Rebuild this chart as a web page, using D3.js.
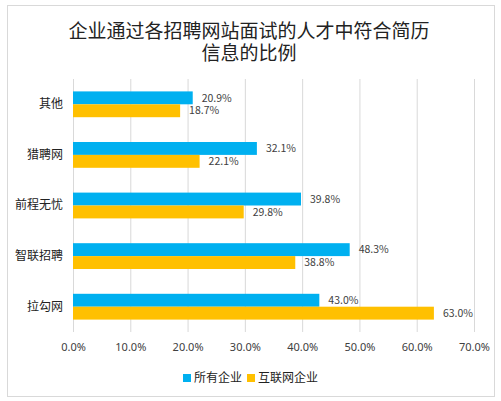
<!DOCTYPE html>
<html>
<head>
<meta charset="utf-8">
<script src="https://cdn.jsdelivr.net/npm/d3@7"></script>
<style>
  body { margin: 0; background: #fff; }
  svg { font-family: "Noto Sans CJK SC", "Noto Sans", sans-serif; }
</style>
</head>
<body>
<script>
// chart data
var categories = ["其他", "猎聘网", "前程无忧", "智联招聘", "拉勾网"];
var seriesNames = ["所有企业", "互联网企业"];
var allCompanies = [20.9, 32.1, 39.8, 48.3, 43.0];
var internetCompanies = [18.7, 22.1, 29.8, 38.8, 63.0];
var tickValues = [0, 10, 20, 30, 40, 50, 60, 70];
var titleLines = ["企业通过各招聘网站面试的人才中符合简历", "信息的比例"];
var colors = ["#00b0f0", "#ffc000"];

var width = 501, height = 401;
var margin = {top: 79, right: 27, bottom: 69, left: 73};

var rows = categories.map((c, i) => ({
  cat: c,
  vals: [allCompanies[i], internetCompanies[i]]
}));

var svg = d3.select("body").append("svg")
    .attr("width", width)
    .attr("height", height);

// outer frame
svg.append("rect")
    .attr("x", 7.5).attr("y", 5.5)
    .attr("width", 487).attr("height", 391)
    .attr("fill", "#fff")
    .attr("stroke", "#d9d9d9");

var x = d3.scaleLinear()
    .domain([0, 70])
    .range([margin.left, width - margin.right]);

var y = d3.scaleBand()
    .domain(categories)
    .range([margin.top, height - margin.bottom])
    .paddingInner(0.49)
    .paddingOuter(0.245);

var ySub = d3.scaleBand()
    .domain([0, 1])
    .range([0, y.bandwidth()]);

// gridlines
svg.append("g")
    .selectAll("line")
    .data(tickValues)
    .enter().append("line")
      .attr("x1", d => x(d) + 0.5)
      .attr("x2", d => x(d) + 0.5)
      .attr("y1", margin.top)
      .attr("y2", height - margin.bottom)
      .attr("stroke", "#d9d9d9")
      .attr("stroke-width", 1);

// bars
var groups = svg.append("g")
  .selectAll("g")
  .data(rows)
  .enter().append("g")
    .attr("transform", d => `translate(0,${y(d.cat)})`);

groups.selectAll("rect")
  .data(d => d.vals)
  .enter().append("rect")
    .attr("x", x(0))
    .attr("y", (d, i) => ySub(i))
    .attr("width", d => x(d) - x(0))
    .attr("height", ySub.bandwidth())
    .attr("fill", (d, i) => colors[i]);

groups.selectAll("text")
  .data(d => d.vals)
  .enter().append("text")
    .attr("x", d => x(d) + 9)
    .attr("y", (d, i) => ySub(i) + ySub.bandwidth() / 2)
    .attr("dy", "0.35em")
    .attr("font-size", "10.5px")
    .attr("fill", "#404040")
    .text(d => d.toFixed(1) + "%");

// category axis
var yAxis = g => g
    .attr("transform", `translate(${margin.left},0)`)
    .call(d3.axisLeft(y).tickSize(0).tickPadding(10))
    .call(g => g.select(".domain").remove())
    .call(g => g.selectAll("text")
        .attr("font-size", "12px")
        .attr("fill", "#222")
        .attr("font-family", "Noto Sans CJK SC"));
svg.append("g").call(yAxis);

// value axis
var xAxis = g => g
    .attr("transform", `translate(0,${height - margin.bottom})`)
    .call(d3.axisBottom(x).tickValues(tickValues).tickSize(0).tickPadding(11)
        .tickFormat(d => d.toFixed(1) + "%"))
    .call(g => g.select(".domain").remove())
    .call(g => g.selectAll("text")
        .attr("font-size", "11px")
        .attr("fill", "#404040")
        .attr("font-family", "Noto Sans, sans-serif"));
svg.append("g").call(xAxis);

// title, one text per line
svg.append("g")
  .selectAll("text")
  .data(titleLines)
  .enter().append("text")
    .attr("x", 249)
    .attr("y", (d, i) => 38 + i * 22)
    .attr("text-anchor", "middle")
    .attr("font-size", "19px")
    .attr("fill", "#222")
    .text(d => d);

// legend
var legendX = [183, 247];
var legend = svg.append("g")
  .selectAll("g")
  .data(seriesNames)
  .enter().append("g")
    .attr("transform", (d, i) => `translate(${legendX[i]},378)`);
legend.append("rect")
    .attr("x", 0).attr("y", -4)
    .attr("width", 8).attr("height", 8)
    .attr("fill", (d, i) => colors[i]);
legend.append("text")
    .attr("x", 11)
    .attr("dy", "0.35em")
    .attr("font-size", "12px")
    .attr("fill", "#222")
    .text(d => d);
</script>
</body>
</html>
